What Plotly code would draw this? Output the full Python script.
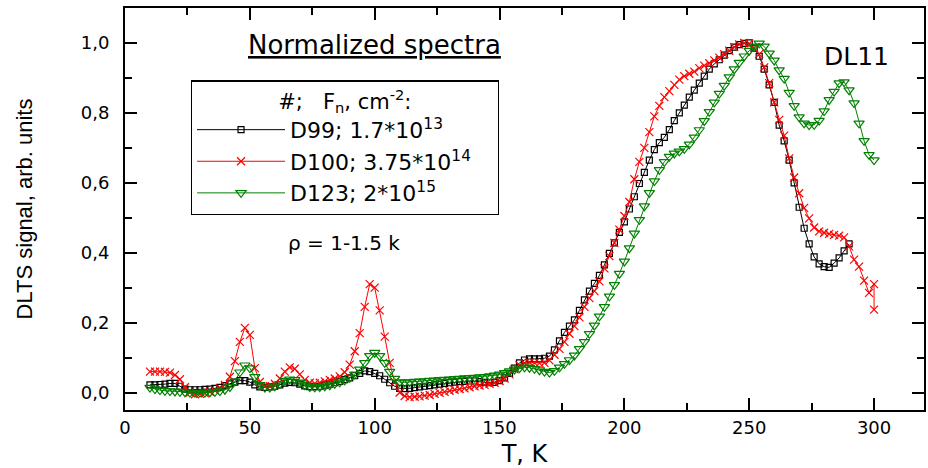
import plotly.graph_objects as go

# Temperature grid (K), 2 K steps
T_D99 = list(range(10, 291, 2))
T_D100 = list(range(10, 301, 2)) + [300]
T_D123 = list(range(10, 301, 2))

D99 = [
    0.022, 0.022, 0.023, 0.024, 0.026, 0.026, 0.018, 0.010, 0.008, 0.008,   # 10-28
    0.008, 0.009, 0.010, 0.012, 0.015, 0.020, 0.025, 0.030, 0.034, 0.034,   # 30-48
    0.030, 0.022, 0.016, 0.015, 0.016, 0.018, 0.022, 0.027, 0.029, 0.028,   # 50-68
    0.024, 0.019, 0.017, 0.017, 0.018, 0.021, 0.024, 0.028, 0.032, 0.037,   # 70-88
    0.042, 0.048, 0.055, 0.062, 0.060, 0.055, 0.048, 0.038, 0.028, 0.018,   # 90-108
    0.012, 0.011, 0.012, 0.014, 0.016, 0.018, 0.020, 0.022, 0.024, 0.026,   # 110-128
    0.028, 0.030, 0.031, 0.032, 0.033, 0.033, 0.031, 0.029, 0.028, 0.029,   # 130-148
    0.034, 0.042, 0.055, 0.070, 0.085, 0.093, 0.096, 0.096, 0.096, 0.098,   # 150-168
    0.104, 0.122, 0.148, 0.172, 0.190, 0.208, 0.235, 0.265, 0.290, 0.312,   # 170-188
    0.335, 0.365, 0.398, 0.428, 0.458, 0.488, 0.525, 0.560, 0.598, 0.630,   # 190-208
    0.665, 0.695, 0.715, 0.730, 0.752, 0.778, 0.800, 0.822, 0.845, 0.865,   # 210-228
    0.885, 0.905, 0.925, 0.940, 0.952, 0.965, 0.978, 0.988, 0.995, 0.999,   # 230-248
    1.000, 0.985, 0.962, 0.925, 0.880, 0.830, 0.765, 0.720, 0.665, 0.600,   # 250-268
    0.530, 0.470, 0.425, 0.388, 0.368, 0.360, 0.358, 0.370, 0.385, 0.405,   # 270-288
    0.425,                                                                  # 290
]

D100 = [
    0.060, 0.060, 0.060, 0.059, 0.057, 0.050, 0.038, 0.015, 0.000, -0.005,  # 10-28
    -0.004, -0.002, 0.002, 0.006, 0.012, 0.022, 0.045, 0.090, 0.145, 0.185, # 30-48
    0.165, 0.070, 0.030, 0.018, 0.018, 0.025, 0.040, 0.060, 0.072, 0.068,   # 50-68
    0.052, 0.036, 0.028, 0.026, 0.028, 0.032, 0.036, 0.040, 0.046, 0.058,   # 70-88
    0.080, 0.118, 0.170, 0.245, 0.310, 0.300, 0.235, 0.160, 0.085, 0.030,   # 90-108
    0.000, -0.010, -0.013, -0.012, -0.011, -0.009, -0.007, -0.004, -0.001, 0.002,  # 110-128
    0.005, 0.008, 0.010, 0.012, 0.015, 0.018, 0.020, 0.022, 0.025, 0.028,   # 130-148
    0.033, 0.040, 0.052, 0.066, 0.078, 0.084, 0.086, 0.085, 0.084, 0.085,   # 150-168
    0.092, 0.108, 0.125, 0.145, 0.168, 0.190, 0.215, 0.245, 0.270, 0.290,   # 170-188
    0.318, 0.355, 0.390, 0.428, 0.466, 0.505, 0.545, 0.610, 0.660, 0.700,   # 190-208
    0.745, 0.790, 0.820, 0.845, 0.862, 0.880, 0.895, 0.905, 0.912, 0.918,   # 210-228
    0.928, 0.935, 0.942, 0.950, 0.958, 0.968, 0.978, 0.988, 0.996, 1.000,   # 230-248
    0.998, 0.985, 0.968, 0.930, 0.885, 0.830, 0.780, 0.735, 0.670, 0.615,   # 250-268
    0.570, 0.528, 0.498, 0.472, 0.461, 0.457, 0.454, 0.451, 0.449, 0.444,   # 270-288
    0.418, 0.380, 0.360, 0.320, 0.285, 0.310,                               # 290-300
    0.237,                                                                  # 300 (last)
]

D123 = [
    0.014, 0.010, 0.007, 0.005, 0.004, 0.003, 0.002, 0.001, 0.000, 0.000,   # 10-28
    0.000, 0.000, 0.001, 0.002, 0.004, 0.008, 0.016, 0.032, 0.058, 0.078,   # 30-48
    0.070, 0.045, 0.022, 0.014, 0.014, 0.018, 0.025, 0.034, 0.038, 0.036,   # 50-68
    0.029, 0.021, 0.016, 0.015, 0.016, 0.018, 0.021, 0.025, 0.029, 0.035,   # 70-88
    0.042, 0.052, 0.066, 0.085, 0.105, 0.114, 0.105, 0.085, 0.060, 0.040,   # 90-108
    0.030, 0.029, 0.030, 0.031, 0.032, 0.033, 0.034, 0.035, 0.036, 0.037,   # 110-128
    0.038, 0.039, 0.040, 0.041, 0.042, 0.043, 0.044, 0.045, 0.047, 0.049,   # 130-148
    0.052, 0.056, 0.061, 0.066, 0.070, 0.072, 0.071, 0.068, 0.064, 0.060,   # 150-168
    0.057, 0.062, 0.072, 0.082, 0.093, 0.106, 0.125, 0.145, 0.168, 0.192,   # 170-188
    0.218, 0.245, 0.275, 0.308, 0.340, 0.375, 0.413, 0.455, 0.494, 0.533,   # 190-208
    0.571, 0.605, 0.637, 0.660, 0.675, 0.684, 0.690, 0.697, 0.710, 0.730,   # 210-228
    0.751, 0.777, 0.803, 0.830, 0.855, 0.878, 0.902, 0.925, 0.944, 0.962,   # 230-248
    0.978, 0.990, 0.999, 0.990, 0.970, 0.950, 0.922, 0.898, 0.858, 0.820,   # 250-268
    0.788, 0.770, 0.765, 0.766, 0.778, 0.805, 0.837, 0.861, 0.885, 0.888,   # 270-288
    0.865, 0.828, 0.770, 0.720, 0.680, 0.665,                               # 290-300
]

X_TICKS = [0, 50, 100, 150, 200, 250, 300]
Y_TICKS = [0.0, 0.2, 0.4, 0.6, 0.8, 1.0]

NAMES = ["D99; 1.7*10<sup>13</sup>\u00a0\u00a0\u00a0",
         "D100; 3.75*10<sup>14</sup>\u00a0\u00a0\u00a0",
         "D123; 2*10<sup>15</sup>\u00a0\u00a0\u00a0"]

fig = go.Figure()
fig.add_trace(go.Scatter(
    x=T_D99, y=D99, name=NAMES[0], mode="lines+markers",
    line=dict(color="black", width=1),
    marker=dict(symbol="square-open", size=6, color="black", line=dict(width=1.2)),
))
fig.add_trace(go.Scatter(
    x=T_D100, y=D100, name=NAMES[1], mode="lines+markers",
    line=dict(color="#ff0000", width=1),
    marker=dict(symbol="x-thin-open", size=8, color="#ff0000", line=dict(width=1.2, color="#ff0000")),
))
fig.add_trace(go.Scatter(
    x=T_D123, y=D123, name=NAMES[2], mode="lines+markers",
    line=dict(color="#008000", width=1),
    marker=dict(symbol="triangle-down-open", size=9, color="#008000", line=dict(width=1.2)),
))

HFONT = "DejaVu Sans"
fig.update_layout(
    width=928, height=468,
    margin=dict(l=125, r=2, t=8, b=58),
    paper_bgcolor="white", plot_bgcolor="white",
    separators=", ",
    font=dict(family=HFONT, color="black", size=18),
    showlegend=True,
    legend=dict(
        x=0.0824, y=0.82, xanchor="left", yanchor="top",
        bordercolor="black", borderwidth=1.2, bgcolor="white",
        font=dict(family=HFONT, size=22, color="black"),
        title=dict(text="#;   F<sub>n</sub>, cm<sup>-2</sup>:", side="top center",
                   font=dict(family=HFONT, size=21, color="black")),
        itemwidth=88, tracegroupgap=0,
    ),
    xaxis=dict(
        range=[0, 320], tickvals=X_TICKS, ticks="inside", ticklen=12, tickwidth=1.5,
        tickcolor="black", showline=True, linecolor="black", linewidth=2, mirror="ticks",
        showgrid=False, zeroline=False,
        tickfont=dict(family=HFONT, size=18),
        minor=dict(tickvals=[25, 75, 125, 175, 225, 275], ticks="inside", ticklen=7,
                   tickwidth=1.5, tickcolor="black"),
        title=dict(text="T, K", font=dict(family=HFONT, size=24), standoff=10),
    ),
    yaxis=dict(
        range=[-0.05, 1.1], tickvals=Y_TICKS, tickformat=".1f", ticks="inside", ticklen=12,
        tickwidth=1.5, tickcolor="black", showline=True, linecolor="black", linewidth=2,
        mirror="ticks", showgrid=False, zeroline=False, ticklabelstandoff=10,
        tickfont=dict(family=HFONT, size=18),
        minor=dict(tickvals=[0.1, 0.3, 0.5, 0.7, 0.9], ticks="inside", ticklen=7,
                   tickwidth=1.5, tickcolor="black"),
        title=dict(text="DLTS signal, arb. units", font=dict(family="Liberation Sans", size=22),
                   standoff=42),
    ),
    annotations=[
        dict(x=100, y=0.995, xref="x", yref="y", text="<u>Normalized spectra</u>",
             showarrow=False, font=dict(family=HFONT, size=26, color="black")),
        dict(x=293, y=0.96, xref="x", yref="y", text="DL11",
             showarrow=False, font=dict(family=HFONT, size=25, color="black")),
        dict(x=87.6, y=0.429, xref="x", yref="y", text="\u03c1 = 1-1.5 k",
             showarrow=False, font=dict(family=HFONT, size=20, color="black")),
    ],
)

fig.write_html("out.html")
